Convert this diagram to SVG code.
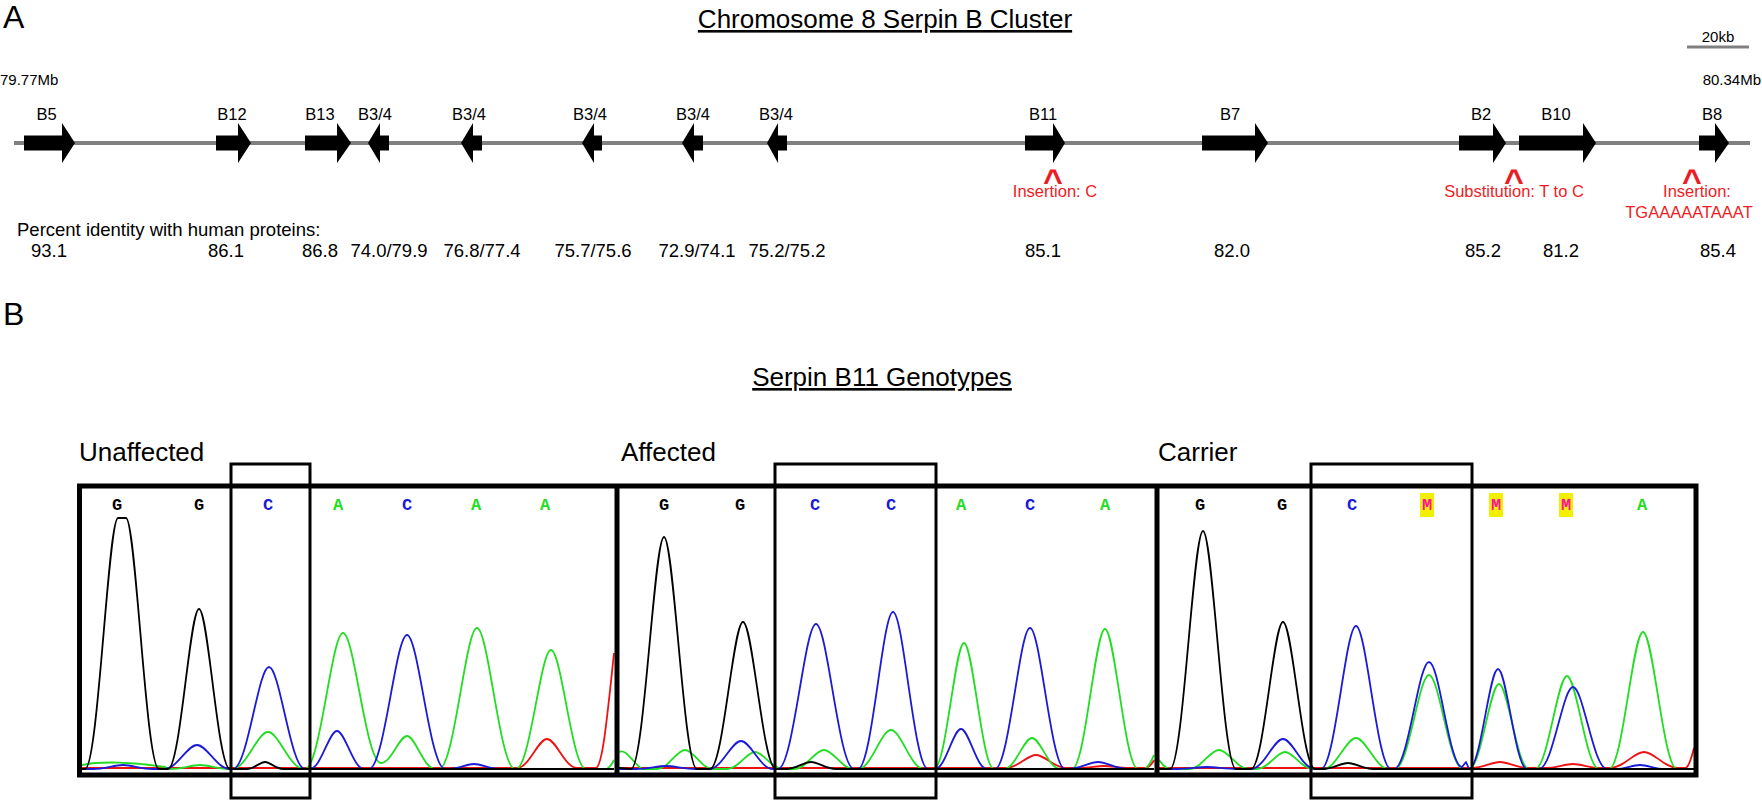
<svg xmlns="http://www.w3.org/2000/svg" width="1762" height="800" viewBox="0 0 1762 800">
<style>
text{font-family:"Liberation Sans",Arial,sans-serif;fill:#000}
.panel{font-size:32px}
.title{font-size:26px;text-decoration:underline}
.mb{font-size:15px}
.gl{font-size:16.5px;text-anchor:middle}
.pc{font-size:18.5px;text-anchor:middle}
.red{font-size:16.5px;fill:#ed1c24;text-anchor:middle}
.caret{font-size:34px;font-weight:bold;fill:#ed1c24;text-anchor:middle}
.gene{fill:#000}
.back{stroke:#808080;stroke-width:4;fill:none}
.grp{font-size:26px}
.base{font-family:"Liberation Mono","Courier New",monospace;font-weight:bold;font-size:17px;text-anchor:middle}
.bG{fill:#000}.bC{fill:#1a1ad8}.bA{fill:#22dd22}.bM{fill:#ff1493}
.hl{fill:#f2f000}
.tr{fill:none;stroke-width:1.8;stroke-linejoin:round}
.tk{stroke:#000}.tb{stroke:#1a1ad8}.tg{stroke:#22dd22}.tr2{stroke:#ee1111}
.frame{fill:none;stroke:#000;stroke-width:5}
.box{fill:none;stroke:#000;stroke-width:3}
</style>

<!-- Panel A -->
<g id="panelA">
<text class="panel" x="3" y="28">A</text>
<text class="title" x="885" y="28" text-anchor="middle">Chromosome 8 Serpin B Cluster</text>
<g id="scalebar">
<line x1="1687" y1="47" x2="1749" y2="47" stroke="#808080" stroke-width="3"/>
<text class="mb" x="1718" y="42" text-anchor="middle">20kb</text>
</g>
<text class="mb" x="0" y="85">79.77Mb</text>
<text class="mb" x="1761" y="85" text-anchor="end">80.34Mb</text>
</g>

<g id="connectors">
<line class="back" x1="14" y1="143" x2="1750" y2="143"/>
</g>

<g id="gene-B5"><polygon class="gene" points="24,135.5 62,135.5 62,123 75,143 62,163 62,150.5 24,150.5"/><text class="gl" x="46.5" y="120">B5</text></g>
<g id="gene-B12"><polygon class="gene" points="216,135.5 238,135.5 238,123 251,143 238,163 238,150.5 216,150.5"/><text class="gl" x="232" y="120">B12</text></g>
<g id="gene-B13"><polygon class="gene" points="305,135.5 337,135.5 337,123 351,143 337,163 337,150.5 305,150.5"/><text class="gl" x="320" y="120">B13</text></g>
<g id="gene-B34a"><polygon class="gene" points="389,135.5 380,135.5 380,123 368,143 380,163 380,150.5 389,150.5"/><text class="gl" x="375" y="120">B3/4</text></g>
<g id="gene-B34b"><polygon class="gene" points="482,135.5 473,135.5 473,123 461,143 473,163 473,150.5 482,150.5"/><text class="gl" x="469" y="120">B3/4</text></g>
<g id="gene-B34c"><polygon class="gene" points="602,135.5 594,135.5 594,123 582,143 594,163 594,150.5 602,150.5"/><text class="gl" x="590" y="120">B3/4</text></g>
<g id="gene-B34d"><polygon class="gene" points="703,135.5 694,135.5 694,123 682,143 694,163 694,150.5 703,150.5"/><text class="gl" x="693" y="120">B3/4</text></g>
<g id="gene-B34e"><polygon class="gene" points="787,135.5 778,135.5 778,123 767,143 778,163 778,150.5 787,150.5"/><text class="gl" x="776" y="120">B3/4</text></g>
<g id="gene-B11"><polygon class="gene" points="1025,135.5 1053,135.5 1053,123 1065,143 1053,163 1053,150.5 1025,150.5"/><text class="gl" x="1043" y="120">B11</text></g>
<g id="gene-B7"><polygon class="gene" points="1202,135.5 1255,135.5 1255,123 1268,143 1255,163 1255,150.5 1202,150.5"/><text class="gl" x="1230" y="120">B7</text></g>
<g id="gene-B2"><polygon class="gene" points="1459,135.5 1493,135.5 1493,123 1506,143 1493,163 1493,150.5 1459,150.5"/><text class="gl" x="1481" y="120">B2</text></g>
<g id="gene-B10"><polygon class="gene" points="1519,135.5 1583,135.5 1583,123 1596,143 1583,163 1583,150.5 1519,150.5"/><text class="gl" x="1556" y="120">B10</text></g>
<g id="gene-B8"><polygon class="gene" points="1699,135.5 1715,135.5 1715,123 1729,143 1715,163 1715,150.5 1699,150.5"/><text class="gl" x="1712" y="120">B8</text></g>

<g id="mutations">
<text class="caret" x="1053" y="192">^</text>
<text class="red" x="1055" y="197">Insertion: C</text>
<text class="caret" x="1514" y="192">^</text>
<text class="red" x="1514" y="197">Substitution: T to C</text>
<text class="caret" x="1692" y="192">^</text>
<text class="red" x="1697" y="197">Insertion:</text>
<text class="red" x="1689" y="218">TGAAAAATAAAT</text>
</g>

<g id="identity">
<text x="17" y="236" style="font-size:18.5px">Percent identity with human proteins:</text>
<text class="pc" x="49" y="257">93.1</text>
<text class="pc" x="226" y="257">86.1</text>
<text class="pc" x="320" y="257">86.8</text>
<text class="pc" x="389" y="257">74.0/79.9</text>
<text class="pc" x="482" y="257">76.8/77.4</text>
<text class="pc" x="593" y="257">75.7/75.6</text>
<text class="pc" x="697" y="257">72.9/74.1</text>
<text class="pc" x="787" y="257">75.2/75.2</text>
<text class="pc" x="1043" y="257">85.1</text>
<text class="pc" x="1232" y="257">82.0</text>
<text class="pc" x="1483" y="257">85.2</text>
<text class="pc" x="1561" y="257">81.2</text>
<text class="pc" x="1718" y="257">85.4</text>
</g>

<!-- Panel B -->
<g id="panelB">
<text class="panel" x="3" y="325">B</text>
<text class="title" x="882" y="386" text-anchor="middle">Serpin B11 Genotypes</text>
</g>

<g id="unaffected">
<text class="grp" x="79" y="461">Unaffected</text>
<text class="base bG" x="117" y="510">G</text>
<text class="base bG" x="199" y="510">G</text>
<text class="base bC" x="268" y="510">C</text>
<text class="base bA" x="338" y="510">A</text>
<text class="base bC" x="407" y="510">C</text>
<text class="base bA" x="476" y="510">A</text>
<text class="base bA" x="545" y="510">A</text>
<path class="tr tr2" d="M82,768 L517,768 C529,768 538,739 547,739 C556,739 565,768 577,768 L596,768 C602,766 606,730 614,653"/>
<path class="tr tg" d="M82,765 C100,761 135,762 165,767 L170,769 C182,769 191,765 200,765 C209,765 218,769 230,769 L232,769 C246.4,769 257.2,732 268,732 C278.8,732 289.6,769 304,769 L305,769 C320.2,769 331.6,633 343,633 C354.4,633 365.8,763 381,763 C391.4,763 399.2,736 407,736 C415.4,736 423.8,769 435,769 L439,769 C454.2,769 465.6,628 477,628 C488.4,628 499.8,769 515,769 L516,769 C530,769 540.5,650 551,650 C561.5,650 572,769 586,769 L606,769 C610,768 612,764 614,760"/>
<path class="tr tb" d="M82,769 L93,769 C105,769 114,765 123,765 C132,765 141,769 153,769 L164,769 C177.2,769 187.1,745 197,745 C206.9,745 216.8,769 230,769 L233,769 C247.4,769 258.2,667 269,667 C279.8,667 290.6,769 305,769 L310,769 C320.8,769 328.9,731 337,731 C345.1,731 353.2,769 364,769 L369,769 C384.2,769 395.6,635 407,635 C418.4,635 429.8,769 445,769 L449,769 C459,769 466.5,764 474,764 C481.5,764 489,769 499,769 L614,769"/>
<path class="tr tk" d="M82,769 L85,769 C98.2,769 108.1,518 118,518 L126,518 C135.9,518 145.8,769 159,769 L168,769 C180.4,769 189.7,609 199,609 C208.3,609 217.6,769 230,769 L247,769 C254.2,769 259.6,762 265,762 C270.4,762 275.8,769 283,769 L614,769"/>
<rect class="box" x="231" y="464" width="79" height="334"/>
</g>

<g id="affected">
<text class="grp" x="621" y="461">Affected</text>
<text class="base bG" x="664" y="510">G</text>
<text class="base bG" x="740" y="510">G</text>
<text class="base bC" x="815" y="510">C</text>
<text class="base bC" x="891" y="510">C</text>
<text class="base bA" x="961" y="510">A</text>
<text class="base bC" x="1030" y="510">C</text>
<text class="base bA" x="1105" y="510">A</text>
<path class="tr tr2" d="M619,768 L1006,768 C1018,768 1027,755 1036,755 C1045,755 1054,768 1066,768 L1079,768 C1089,768 1096.5,766 1104,766 C1111.5,766 1119,768 1129,768 L1146,768 C1149,767 1152,764 1154,760"/>
<path class="tr tg" d="M619,752 C626,748 632,762 642,769 L657,769 C668.2,769 676.6,750 685,750 C693.4,750 701.8,769 713,769 L727,769 C738.2,769 746.6,752 755,752 C763.4,752 771.8,769 783,769 L794,769 C806,769 815,750 824,750 C833,750 842,769 854,769 L858,769 C871.2,769 881.1,730 891,730 C900.9,730 910.8,769 924,769 L934,769 C946,769 955,643 964,643 C973,643 982,769 994,769 L1004,769 C1015.2,769 1023.6,738 1032,738 C1040.4,738 1048.8,769 1060,769 L1072,769 C1085.2,769 1095.1,629 1105,629 C1114.9,629 1124.8,769 1138,769 L1144,769 C1148,768 1151,762 1154,755"/>
<path class="tr tb" d="M619,769 L636,769 C648,769 657,766 666,766 C675,766 684,769 696,769 L709,769 C721.8,769 731.4,741 741,741 C750.6,741 760.2,769 773,769 L778,769 C793.2,769 804.6,624 816,624 C827.4,624 838.8,769 854,769 L858,769 C872,769 882.5,612 893,612 C903.5,612 914,769 928,769 L935,769 C945.4,769 953.2,729 961,729 C968.8,729 976.6,769 987,769 L995,769 C1009,769 1019.5,628 1030,628 C1040.5,628 1051,769 1065,769 L1068,769 C1080,769 1089,762 1098,762 C1107,762 1116,769 1128,769 L1154,769"/>
<path class="tr tk" d="M619,768 L631,769 C644.2,769 654.1,537 664,537 C673.9,537 683.8,769 697,769 L710,769 C723.2,769 733.1,622 743,622 C752.9,622 762.8,769 776,769 L786,769 C796,769 803.5,762 811,762 C818.5,762 826,769 836,769 L1154,769"/>
<rect class="box" x="775" y="464" width="161" height="334"/>
</g>

<g id="carrier">
<text class="grp" x="1158" y="461">Carrier</text>
<rect class="hl" x="1420" y="493" width="14" height="24"/>
<rect class="hl" x="1489" y="493" width="14" height="24"/>
<rect class="hl" x="1559" y="493" width="14" height="24"/>
<text class="base bG" x="1200" y="510">G</text>
<text class="base bG" x="1282" y="510">G</text>
<text class="base bC" x="1352" y="510">C</text>
<text class="base bM" x="1427" y="510">M</text>
<text class="base bM" x="1496" y="510">M</text>
<text class="base bM" x="1566" y="510">M</text>
<text class="base bA" x="1642" y="510">A</text>
<path class="tr tr2" d="M1159,768 L1472,768 C1483.2,768 1491.6,762 1500,762 C1508.4,762 1516.8,768 1528,768 L1545,768 C1556.2,768 1564.6,764 1573,764 C1581.4,764 1589.8,768 1601,768 L1610,768 C1623.6,768 1633.8,752 1644,752 C1654.2,752 1664.4,768 1678,768 L1686,768 C1689,766 1692,756 1694,748"/>
<path class="tr tg" d="M1159,760 C1163,765 1166,769 1170,769 L1189,769 C1201,769 1210,750 1219,750 C1228,750 1237,769 1249,769 L1257,769 C1268.2,769 1276.6,752 1285,752 C1293.4,752 1301.8,769 1313,769 L1323,769 C1336.2,769 1346.1,738 1356,738 C1365.9,738 1375.8,769 1389,769 L1395,769 C1408.6,769 1418.8,675 1429,675 C1439.2,675 1449.4,769 1463,769 L1469,769 C1481,769 1490,684 1499,684 C1508,684 1517,769 1529,769 L1535,769 C1547.8,769 1557.4,676 1567,676 C1576.6,676 1586.2,769 1599,769 L1609,769 C1622.6,769 1632.8,632 1643,632 C1653.2,632 1663.4,769 1677,769 L1694,769"/>
<path class="tr tb" d="M1159,769 L1177,769 C1189,769 1198,767 1207,767 C1216,767 1225,769 1237,769 L1251,769 C1263.8,769 1273.4,739 1283,739 C1292.6,739 1302.2,769 1315,769 L1321,769 C1335,769 1345.5,626 1356,626 C1366.5,626 1377,769 1391,769 L1394,769 C1408,769 1418.5,662 1429,662 C1439.5,662 1449,767 1462,767 L1466,762 L1469,769 C1480.6,769 1489.3,669 1498,669 C1506.7,669 1515.4,769 1527,769 L1539,769 C1552.6,769 1562.8,687 1573,687 C1583.2,687 1593.4,769 1607,769 L1615,769 C1625,769 1632.5,765 1640,765 C1647.5,765 1655,769 1665,769 L1694,769"/>
<path class="tr tk" d="M1159,769 L1170,769 C1183.2,769 1193.1,531 1203,531 C1212.9,531 1222.8,769 1236,769 L1251,769 C1263.8,769 1273.4,622 1283,622 C1292.6,622 1302.2,769 1315,769 L1323,769 C1333,769 1340.5,763 1348,763 C1355.5,763 1363,769 1373,769 L1694,769"/>
<rect class="box" x="1311" y="464" width="161" height="334"/>
</g>

<g id="frames">
<rect class="frame" x="79.5" y="486" width="1616.5" height="289"/>
<line x1="617" y1="486" x2="617" y2="775" stroke="#000" stroke-width="5"/>
<line x1="1157" y1="486" x2="1157" y2="775" stroke="#000" stroke-width="5"/>
</g>
</svg>
